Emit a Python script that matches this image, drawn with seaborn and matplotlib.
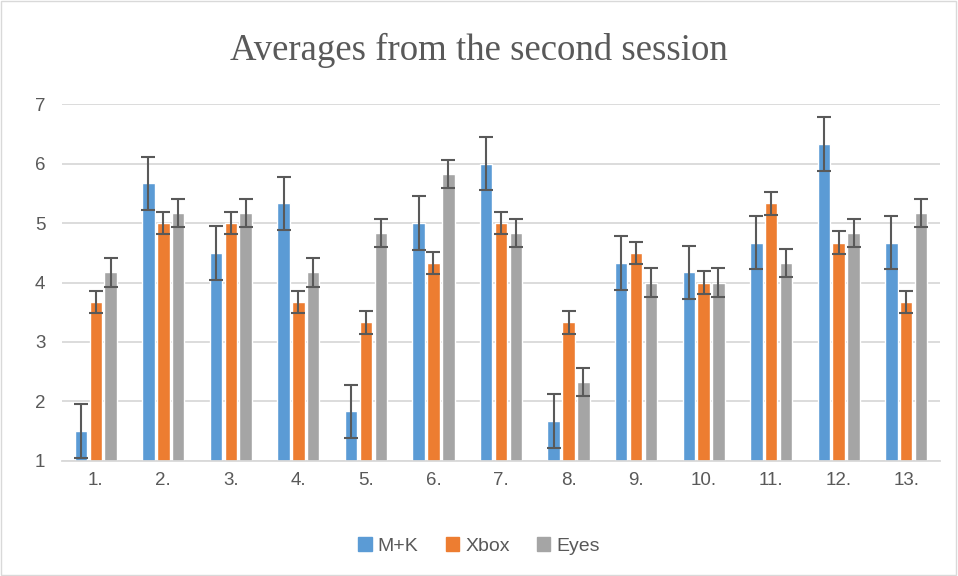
import numpy as np
import pandas as pd
import matplotlib
matplotlib.use("Agg")
import matplotlib.pyplot as plt
import seaborn as sns

# data
questions = ["1.", "2.", "3.", "4.", "5.", "6.", "7.", "8.", "9.", "10.", "11.", "12.", "13."]
mk = [1.5, 5.67, 4.5, 5.33, 1.83, 5.0, 6.0, 1.67, 4.33, 4.17, 4.67, 6.33, 4.67]
xbox = [3.67, 5.0, 5.0, 3.67, 3.33, 4.33, 5.0, 3.33, 4.5, 4.0, 5.33, 4.67, 3.67]
eyes = [4.17, 5.17, 5.17, 4.17, 4.83, 5.83, 4.83, 2.33, 4.0, 4.0, 4.33, 4.83, 5.17]
series = ["M+K", "Xbox", "Eyes"]
errors = [0.45, 0.19, 0.24]
palette = ["#5B9BD5", "#ED7D31", "#A5A5A5"]

df = pd.DataFrame({
    "question": questions * 3,
    "value": mk + xbox + eyes,
    "input": [s for s in series for _ in questions],
})

sns.set_style("white")
plt.rcParams['font.family'] = ['Liberation Sans', 'DejaVu Sans']
text_col = "#595959"

fig = plt.figure(figsize=(9.58, 5.76), dpi=100)
ax = fig.add_axes([0.0647, 0.2, 0.9165, 0.619])

sns.barplot(data=df, x="question", y="value", hue="input", palette=palette,
            width=0.66, gap=0.16, errorbar=None, saturation=1, ax=ax, legend=True)

# error bars (same size within each series)
for cont, err in zip(ax.containers, errors):
    xs = [p.get_x() + p.get_width() / 2 for p in cont]
    ys = [p.get_height() for p in cont]
    ax.errorbar(xs, ys, yerr=err, fmt="none", ecolor="#595959",
                elinewidth=1.5, capsize=5, capthick=1.5, zorder=4)

ax.set_ylim(1, 7)
ax.set_xlim(-0.5, 12.5)
ax.set_yticks(range(1, 8))
ax.yaxis.grid(True, color="#D9D9D9", linewidth=1.3)
ax.set_axisbelow(True)
for s in ["top", "right", "left"]:
    ax.spines[s].set_visible(False)
ax.spines["bottom"].set_color("#D9D9D9")
ax.spines["bottom"].set_linewidth(1.3)
ax.tick_params(axis="both", length=0, labelsize=13.5, colors=text_col, pad=12)
ax.tick_params(axis="x", pad=8)
ax.set_xlabel("")
ax.set_ylabel("")

fig.text(0.5, 0.913, "Averages from the second session", ha="center", va="center",
         fontsize=26.5, color=text_col, family=["Liberation Serif", "DejaVu Serif"])

ax.legend_.remove()
handles = [plt.Rectangle((0, 0), 1, 1, color=c) for c in palette]
fig.legend(handles, series, loc="center", bbox_to_anchor=(0.5, 0.052), ncol=3,
           frameon=False, fontsize=14, labelcolor=text_col, handlelength=0.7,
           handleheight=0.7, handletextpad=0.3, columnspacing=1.4)

fig.patches.append(plt.Rectangle((0.001, 0.001), 0.997, 0.997, transform=fig.transFigure,
                                 fill=False, edgecolor="#D9D9D9", linewidth=1))

fig.savefig("out.png", dpi=100)
